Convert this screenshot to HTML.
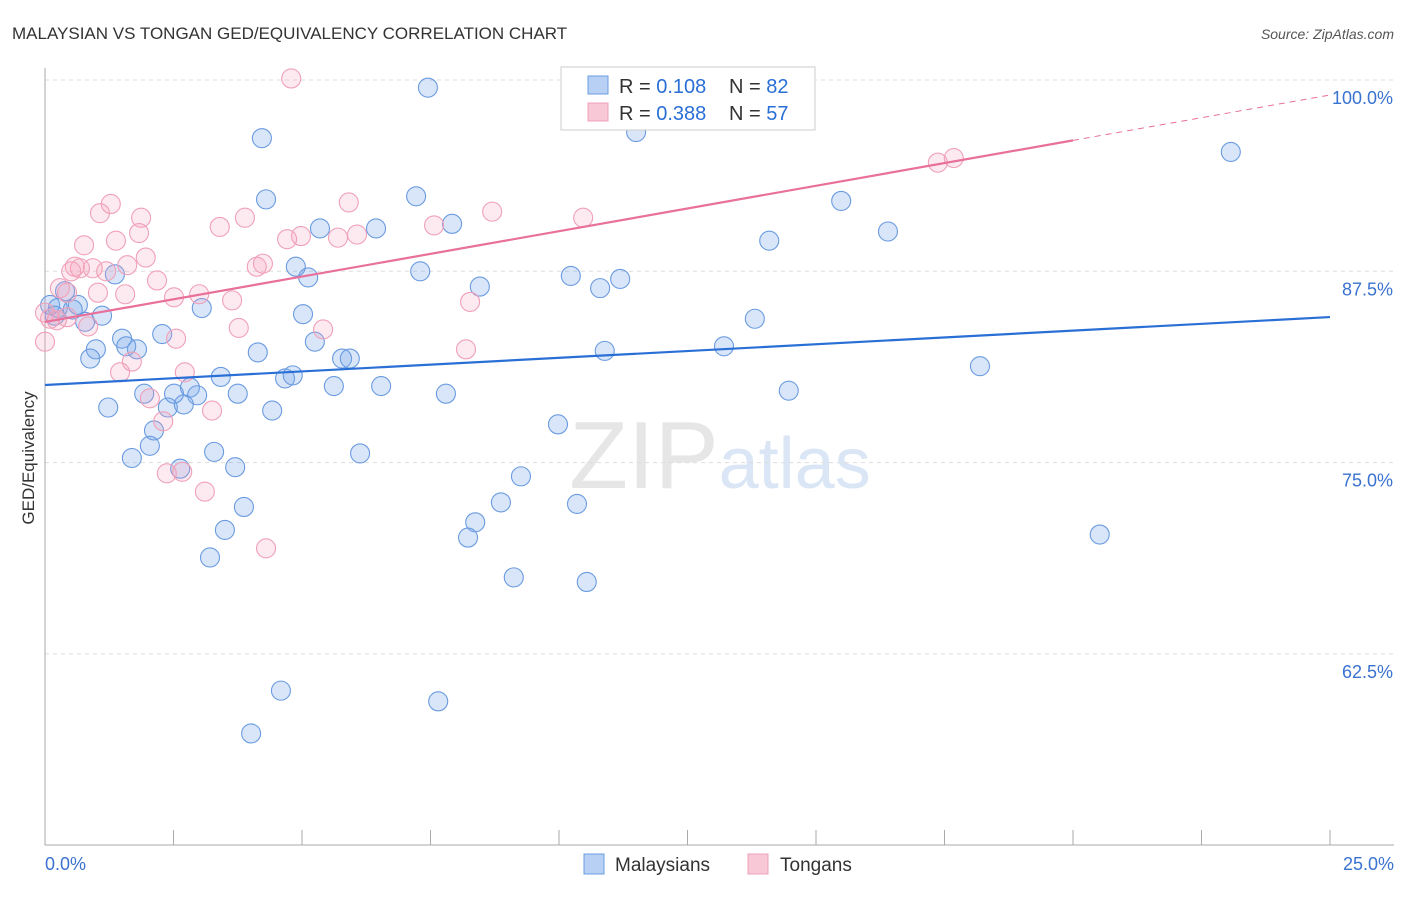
<!DOCTYPE html>
<html><head><meta charset="utf-8"><style>
body{margin:0;background:#fff;font-family:"Liberation Sans",sans-serif}
svg text{font-family:"Liberation Sans",sans-serif}
</style></head><body>
<svg id="chart" width="1406" height="892" xmlns="http://www.w3.org/2000/svg">
<text x="12" y="39" font-size="17" fill="#333">MALAYSIAN VS TONGAN GED/EQUIVALENCY CORRELATION CHART</text>
<text x="1394" y="39" font-size="14" fill="#555" font-style="italic" text-anchor="end">Source: ZipAtlas.com</text>
<text x="720" y="488" font-size="96" text-anchor="middle" fill="#e6e6e6" font-family="Liberation Serif">ZIP<tspan fill="#dae6f5" font-family="Liberation Sans" font-size="72">atlas</tspan></text>
<g id="grid"></g><g id="axes"></g><g id="pts"></g><g id="lines"></g>
<text transform="translate(34,458) rotate(-90)" font-size="17" fill="#333" text-anchor="middle">GED/Equivalency</text>
<g>
<rect x="561" y="67" width="254" height="63" fill="#fff" stroke="#ccc"/>
<rect x="588" y="76" width="20" height="18" fill="#b8d0f4" stroke="#6a9be0"/>
<text x="619" y="93" font-size="20" fill="#333">R = <tspan fill="#2a6fd6">0.108</tspan></text>
<text x="729" y="93" font-size="20" fill="#333">N = <tspan fill="#2a6fd6">82</tspan></text>
<rect x="588" y="103" width="20" height="18" fill="#f8c8d6" stroke="#f0a0b8"/>
<text x="619" y="120" font-size="20" fill="#333">R = <tspan fill="#2a6fd6">0.388</tspan></text>
<text x="729" y="120" font-size="20" fill="#333">N = <tspan fill="#2a6fd6">57</tspan></text>
</g>
<g>
<rect x="584" y="854" width="20" height="20" fill="#b8d0f4" stroke="#6a9be0"/>
<text x="615" y="871" font-size="19" fill="#333">Malaysians</text>
<rect x="748" y="854" width="20" height="20" fill="#f8c8d6" stroke="#f0a0b8"/>
<text x="780" y="871" font-size="19" fill="#333">Tongans</text>
</g>
</svg>
<script>
const yTicks=[100,87.5,75,62.5];
const yTickLabels=["100.0%","87.5%","75.0%","62.5%"];
const xTicks=[0,2.5,5,7.5,10,12.5,15,17.5,20,22.5,25];
const blueX=[7.45,4.22,11.5,23.07,4.3,7.22,15.49,5.35,6.44,7.92,16.4,14.09,4.88,5.12,7.3,10.23,11.19,8.46,10.8,0.1,0.25,0.64,0.39,0.54,1.11,3.05,5.02,13.81,0.78,1.5,2.28,5.25,0.99,1.58,1.79,0.88,4.14,10.89,13.21,5.78,5.93,18.19,3.42,4.67,4.82,2.82,2.51,1.93,2.96,3.75,5.62,6.54,7.8,14.47,1.23,2.39,2.7,4.42,9.98,2.12,2.04,3.29,6.13,1.69,2.63,3.7,9.26,3.87,8.87,10.35,8.37,3.5,8.23,20.52,3.21,9.12,10.54,4.59,7.65,4.01,1.36,0.19];
const blueY=[99.5,96.2,96.6,95.3,92.2,92.4,92.1,90.3,90.3,90.6,90.1,89.5,87.8,87.1,87.5,87.2,87,86.5,86.4,85.3,85.1,85.3,86.2,85,84.6,85.1,84.7,84.4,84.2,83.1,83.4,82.9,82.4,82.6,82.4,81.8,82.2,82.3,82.6,81.8,81.8,81.3,80.6,80.5,80.7,79.9,79.5,79.5,79.4,79.5,80,80,79.5,79.7,78.6,78.6,78.8,78.4,77.5,77.1,76.1,75.7,75.6,75.3,74.6,74.7,74.1,72.1,72.4,72.3,71.1,70.6,70.1,70.3,68.8,67.5,67.2,60.1,59.4,57.3,87.3,84.6];
const pinkX=[4.79,1.28,1.07,1.87,5.91,8.7,10.47,3.89,3.4,7.57,1.83,0.76,1.38,4.98,4.71,5.7,6.07,1.96,17.37,17.68,0.93,0.58,0.68,1.19,0.51,1.6,4.12,4.24,2.18,1.03,1.56,2.51,3,3.64,0.43,0.29,8.27,0.43,0.84,3.77,5.41,2.55,8.19,0.1,0,1.69,1.46,2.72,2.04,2.3,2.37,2.67,3.11,3.25,4.3,0.23,0];
const pinkY=[100.1,91.9,91.3,91,92,91.4,91,91,90.4,90.5,90,89.2,89.5,89.8,89.6,89.7,89.9,88.4,94.6,94.9,87.7,87.8,87.7,87.5,87.5,87.9,87.8,88,86.9,86.1,86,85.8,86,85.6,86.1,86.4,85.5,84.5,83.9,83.8,83.7,83.1,82.4,84.4,82.9,81.6,80.9,80.9,79.2,77.7,74.3,74.4,73.1,78.4,69.4,84.3,84.8];
const blueTrend=[80.07,84.51];
const pinkTrend=[84.19,99.02];
const pinkSolidEnd=20;
const NS="http://www.w3.org/2000/svg";
const X=v=>45+v/25*1285, Y=v=>80+(100-v)/12.5*191.3;
function mk(tag,attrs,parent){const e=document.createElementNS(NS,tag);for(const k in attrs)e.setAttribute(k,attrs[k]);document.getElementById(parent).appendChild(e);return e;}
yTicks.forEach((t,i)=>{
 const l=mk('line',{x1:45,x2:1394,y1:Y(t),y2:Y(t),stroke:'#ddd','stroke-dasharray':'4,4'},'grid');
 
 
 const tx=mk('text',{x:1393,y:Y(t)+24,'font-size':18,fill:'#3a72d0','text-anchor':'end'},'grid');
 tx.textContent=yTickLabels[i];
 
 
});
const ax=mk('line',{x1:45,x2:45,y1:68,y2:845,stroke:'#aaa'},'axes');


const bx=mk('line',{x1:45,x2:1394,y1:845,y2:845,stroke:'#aaa'},'axes');


xTicks.forEach(t=>{const l=mk('line',{x1:X(t),x2:X(t),y1:830,y2:845,stroke:'#aaa'},'axes');
 
 });
[[0,'0.0%','start',45],[25,'25.0%','end',1394]].forEach(a=>{const t=mk('text',{x:a[3],y:870,'font-size':18,fill:'#3a72d0','text-anchor':a[2]},'axes');t.textContent=a[1];
 
 });
blueX.forEach((v,i)=>{const c=mk('circle',{cx:X(v),cy:Y(blueY[i]),r:9.5,fill:'rgba(120,165,235,0.28)',stroke:'#6a9be0','stroke-width':1.1},'pts');
 
 });
pinkX.forEach((v,i)=>{const c=mk('circle',{cx:X(v),cy:Y(pinkY[i]),r:9.5,fill:'rgba(245,160,185,0.22)',stroke:'#f0a0b8','stroke-width':1.1},'pts');
 
 });
const bl=mk('line',{x1:X(0),y1:Y(blueTrend[0]),x2:X(25),y2:Y(blueTrend[1]),stroke:'#2a6fd6','stroke-width':2.2},'lines');


const pAt=x=>pinkTrend[0]+(pinkTrend[1]-pinkTrend[0])*x/25;
const pl=mk('line',{x1:X(0),y1:Y(pAt(0)),x2:X(pinkSolidEnd),y2:Y(pAt(pinkSolidEnd)),stroke:'#e8709a','stroke-width':2.2},'lines');


const pd=mk('line',{x1:X(pinkSolidEnd),y1:Y(pAt(pinkSolidEnd)),x2:X(25),y2:Y(pAt(25)),stroke:'#e8709a','stroke-width':1,'stroke-dasharray':'6,5'},'lines');


</script>
</body></html>
